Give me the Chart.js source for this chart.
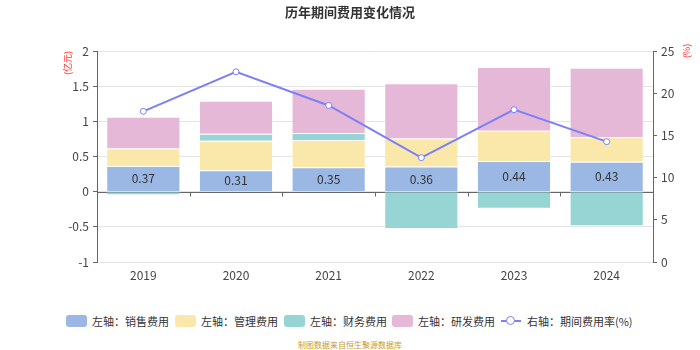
<!DOCTYPE html>
<html>
<head>
<meta charset="utf-8">
<script src="https://cdn.jsdelivr.net/npm/chart.js@4"></script>
<style>
  body { margin: 0; background: #fff; font-family: "Noto Sans CJK SC", "Noto Sans", sans-serif; }
  #wrap { position: relative; width: 700px; height: 350px; }
  #wrap canvas { position: absolute; left: 0; top: 0; }
  .legend-item { position: absolute; top: 313px; display: flex; align-items: center; font-size: 11px; color: #333; white-space: nowrap; }
  .legend-box { width: 21px; height: 12px; border-radius: 3px; margin-right: 5px; }
  .legend-line { position: relative; width: 20px; height: 12px; margin-right: 6px; }
  .legend-line::before { content: ''; position: absolute; left: 0; right: 0; top: 5px; height: 2px; background: #7b80f6; }
  .legend-line::after { content: ''; position: absolute; left: 5px; top: 1px; width: 7px; height: 7px; border: 1.5px solid #7b80f6; border-radius: 50%; background: #fff; }
  #source { position: absolute; top: 339px; width: 700px; text-align: center; font-size: 8px; color: #c99a2e; }
</style>
</head>
<body>
<div id="wrap">
  <canvas id="chart" width="700" height="300"></canvas>
  <div id="legend"></div>
  <div id="source">制图数据来自恒生聚源数据库</div>
</div>
<script>
// 年份
const years = ['2019', '2020', '2021', '2022', '2023', '2024'];

// 费用 (亿元)
const salesCost = [0.37, 0.31, 0.35, 0.36, 0.44, 0.43];
const adminCost = [0.25, 0.42, 0.39, 0.40, 0.43, 0.35];
const financeCost = [-0.05, 0.10, 0.10, -0.53, -0.24, -0.49];
const rdCost = [0.45, 0.47, 0.63, 0.79, 0.91, 0.99];

// 期间费用率 (%)
const expenseRate = [17.9, 22.6, 18.6, 12.4, 18.1, 14.3];

const leftTicks = [-1, -0.5, 0, 0.5, 1, 1.5, 2];
const rightTicks = [0, 5, 10, 15, 20, 25];

const colors = {
    sales: '#9bb7e3',
    admin: '#f9e8a9',
    finance: '#96d5d4',
    rd: '#e6b8d8',
    rate: '#7b80f6'
};

// --- 图例 (HTML) ---
const legendItems = [
    { text: '左轴：销售费用', color: colors.sales, left: 66 },
    { text: '左轴：管理费用', color: colors.admin, left: 175 },
    { text: '左轴：财务费用', color: colors.finance, left: 284 },
    { text: '左轴：研发费用', color: colors.rd, left: 392 },
    { text: '右轴：期间费用率(%)', line: true, left: 501 }
];
const legendEl = document.getElementById('legend');
legendItems.forEach(item => {
    const div = document.createElement('div');
    div.className = 'legend-item';
    div.style.left = item.left + 'px';
    const mark = document.createElement('span');
    if (item.line) {
        mark.className = 'legend-line';
    } else {
        mark.className = 'legend-box';
        mark.style.background = item.color;
    }
    div.appendChild(mark);
    const label = document.createElement('span');
    label.textContent = item.text;
    div.appendChild(label);
    legendEl.appendChild(div);
});

// --- 插件: 零轴线、数值标签、轴单位 ---
const zeroAxisPlugin = {
    id: 'zeroAxis',
    beforeDatasetsDraw(chart) {
        const { ctx, chartArea, scales } = chart;
        const y0 = Math.round(scales.y.getPixelForValue(0)) + 0.5;
        ctx.save();
        ctx.strokeStyle = '#666';
        ctx.lineWidth = 1;
        ctx.beginPath();
        ctx.moveTo(chartArea.left, y0);
        ctx.lineTo(chartArea.right, y0);
        const step = (chartArea.right - chartArea.left) / years.length;
        for (let i = 1; i < years.length; i++) {
            const x = Math.round(chartArea.left + step * i) + 0.5;
            ctx.moveTo(x, y0);
            ctx.lineTo(x, y0 + 4);
        }
        ctx.stroke();
        ctx.restore();
    }
};

const labelPlugin = {
    id: 'barLabels',
    afterDatasetsDraw(chart) {
        const { ctx } = chart;
        const meta = chart.getDatasetMeta(0);
        ctx.save();
        ctx.font = '12px "Noto Sans CJK SC", sans-serif';
        ctx.fillStyle = '#333';
        ctx.textAlign = 'center';
        ctx.textBaseline = 'middle';
        meta.data.forEach((bar, i) => {
            ctx.fillText(salesCost[i].toFixed(2), bar.x, (bar.y + bar.base) / 2);
        });
        ctx.restore();
    }
};

const unitPlugin = {
    id: 'units',
    afterDraw(chart) {
        const { ctx } = chart;
        ctx.save();
        ctx.font = '9px "Noto Sans CJK SC", sans-serif';
        ctx.fillStyle = '#ff3333';
        ctx.textAlign = 'center';
        ctx.textBaseline = 'middle';
        ctx.translate(68, 63);
        ctx.rotate(-Math.PI / 2);
        ctx.fillText('(亿元)', 0, 0);
        ctx.restore();
        ctx.save();
        ctx.font = '9px "Noto Sans CJK SC", sans-serif';
        ctx.fillStyle = '#ff3333';
        ctx.textAlign = 'center';
        ctx.textBaseline = 'middle';
        ctx.translate(687, 51);
        ctx.rotate(-Math.PI / 2);
        ctx.fillText('(%)', 0, 0);
        ctx.restore();
    }
};

function barSet(label, data, color) {
    return {
        type: 'bar',
        label: label,
        data: data,
        backgroundColor: color,
        borderColor: 'rgba(255,255,255,0.35)',
        borderWidth: 1,
        stack: 'cost',
        yAxisID: 'y',
        barPercentage: 0.8,
        categoryPercentage: 1,
        order: 1
    };
}

Chart.defaults.font.family = '"Noto Sans CJK SC", "Noto Sans", sans-serif';
Chart.defaults.color = '#444';

new Chart(document.getElementById('chart'), {
    data: {
        labels: years,
        datasets: [
            barSet('左轴：销售费用', salesCost, colors.sales),
            barSet('左轴：管理费用', adminCost, colors.admin),
            barSet('左轴：财务费用', financeCost, colors.finance),
            barSet('左轴：研发费用', rdCost, colors.rd),
            {
                type: 'line',
                label: '右轴：期间费用率(%)',
                data: expenseRate,
                yAxisID: 'y1',
                borderColor: colors.rate,
                borderWidth: 2,
                pointRadius: 3,
                pointBackgroundColor: '#fff',
                pointBorderColor: colors.rate,
                pointBorderWidth: 1,
                tension: 0,
                order: 0
            }
        ]
    },
    options: {
        responsive: false,
        animation: false,
        layout: { padding: { top: 0, left: 0, right: 0, bottom: 0 } },
        plugins: {
            legend: { display: false },
            tooltip: { enabled: false },
            title: {
                display: true,
                text: '历年期间费用变化情况',
                color: '#333',
                font: { size: 13, weight: 'bold' },
                padding: { top: 4, bottom: 32 }
            }
        },
        scales: {
            x: {
                stacked: true,
                grid: { display: false, drawTicks: false },
                border: { display: false },
                ticks: { font: { size: 12 }, color: '#444', padding: 6 },
                afterFit: s => { s.height = 38; }
            },
            y: {
                stacked: true,
                position: 'left',
                min: -1,
                max: 2,
                afterBuildTicks: s => { s.ticks = leftTicks.map(v => ({ value: v })); },
                ticks: { font: { size: 12 }, color: '#444', padding: 4, callback: v => String(v) },
                grid: { color: '#e3e3e3', lineWidth: 1, tickLength: 4, tickColor: '#666' },
                border: { display: true, color: '#666' },
                afterFit: s => { s.width = 97; }
            },
            y1: {
                position: 'right',
                min: 0,
                max: 25,
                afterBuildTicks: s => { s.ticks = rightTicks.map(v => ({ value: v })); },
                ticks: { font: { size: 12 }, color: '#444', padding: 4, callback: v => String(v) },
                grid: { drawOnChartArea: false, tickLength: 4, tickColor: '#666' },
                border: { display: true, color: '#666' },
                afterFit: s => { s.width = 47; }
            }
        }
    },
    plugins: [zeroAxisPlugin, labelPlugin, unitPlugin]
});
</script>
</body>
</html>
